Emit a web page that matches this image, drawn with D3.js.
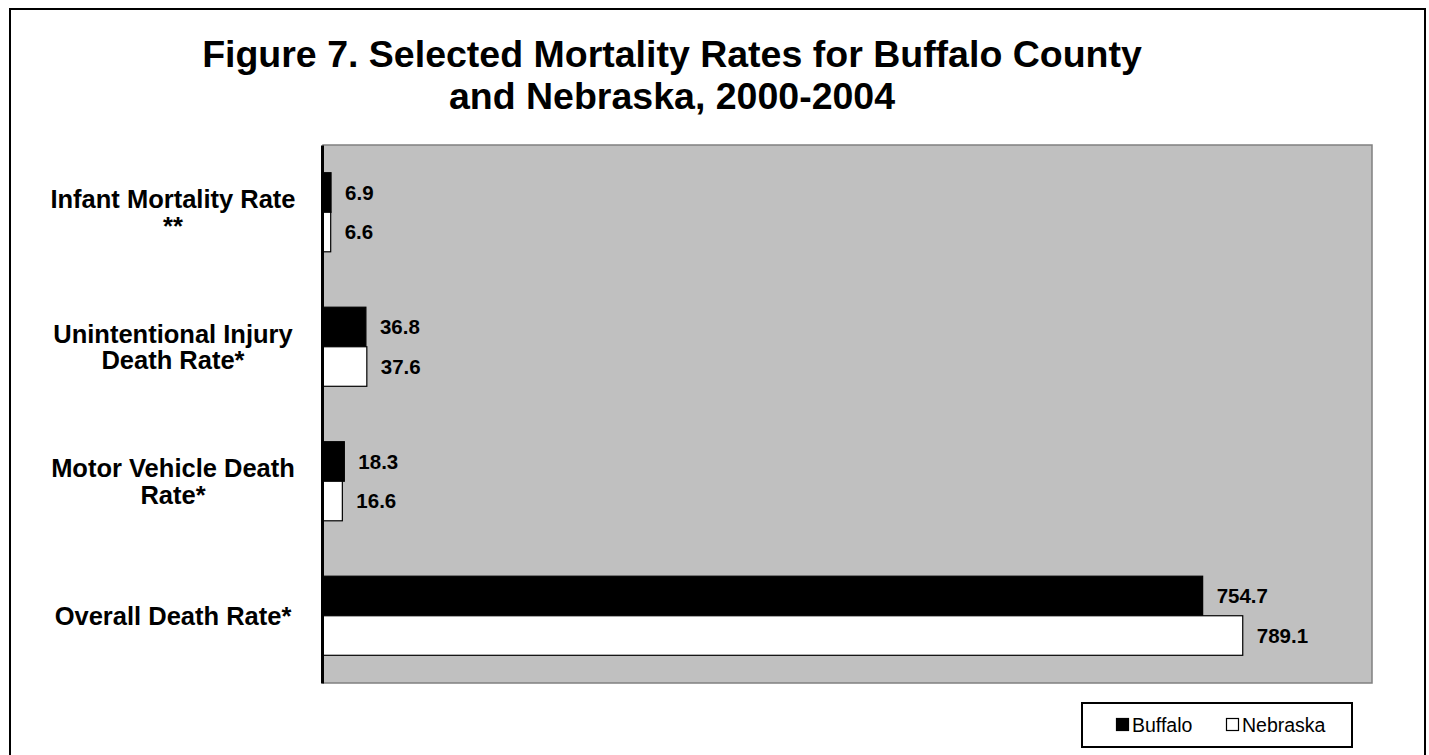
<!DOCTYPE html>
<html>
<head>
<meta charset="utf-8">
<script src="https://cdn.jsdelivr.net/npm/d3@7"></script>
<style>
  html, body { margin: 0; padding: 0; background: #fff; }
  svg { display: block; font-family: "Liberation Sans", Arial, sans-serif; }
</style>
</head>
<body>
<svg id="chart" width="1429" height="755"></svg>
<script>
// ---- data ----
const categories = [
  ["Infant Mortality Rate", "**"],
  ["Unintentional Injury", "Death Rate*"],
  ["Motor Vehicle Death", "Rate*"],
  ["Overall Death Rate*"]
];
const seriesNames = ["Buffalo", "Nebraska"];
const buffaloValues = [6.9, 36.8, 18.3, 754.7];
const nebraskaValues = [6.6, 37.6, 16.6, 789.1];
const titleLines = ["Figure 7. Selected Mortality Rates for Buffalo County", "and Nebraska, 2000-2004"];
const xDomain = [0, 900];

// ---- layout ----
const svg = d3.select("#chart");
const plot = { left: 323, right: 1372, top: 145, bottom: 683 };
const seriesFill = { Buffalo: "#000000", Nebraska: "#ffffff" };

// outer border
svg.append("rect")
  .attr("x", 10).attr("y", 9).attr("width", 1415).attr("height", 760)
  .attr("fill", "#fff").attr("stroke", "#000").attr("stroke-width", 2);

// title
svg.append("text")
  .attr("text-anchor", "middle")
  .attr("font-size", 37.5).attr("font-weight", "bold")
  .selectAll("tspan").data(titleLines).join("tspan")
  .attr("x", 672).attr("y", (d, i) => 67 + i * 42)
  .text(d => d);

// scales
const catKeys = categories.map(c => c.join(" "));
const y = d3.scaleBand().domain(catKeys).range([plot.top, plot.bottom])
  .paddingInner(0.412).paddingOuter(0.206);
const ySub = d3.scaleBand().domain(seriesNames).range([0, y.bandwidth()]);
const x = d3.scaleLinear().domain(xDomain).range([plot.left, plot.right]);

// plot area
svg.append("rect")
  .attr("x", plot.left).attr("y", plot.top)
  .attr("width", plot.right - plot.left).attr("height", plot.bottom - plot.top)
  .attr("fill", "#c0c0c0").attr("stroke", "#808080").attr("stroke-width", 1.5);

const rows = catKeys.map((k, i) => ({
  key: k, lines: categories[i],
  vals: [{ s: "Buffalo", v: buffaloValues[i] }, { s: "Nebraska", v: nebraskaValues[i] }]
}));

const groups = svg.append("g").selectAll("g").data(rows).join("g")
  .attr("transform", d => `translate(0,${y(d.key)})`);

groups.selectAll("rect").data(d => d.vals).join("rect")
  .attr("x", x(0))
  .attr("y", d => ySub(d.s))
  .attr("width", d => x(d.v) - x(0))
  .attr("height", ySub.bandwidth())
  .attr("fill", d => seriesFill[d.s])
  .attr("stroke", "#000").attr("stroke-width", 1.2);

groups.selectAll("text.val").data(d => d.vals).join("text")
  .attr("class", "val")
  .attr("x", d => x(d.v) + 14)
  .attr("y", d => ySub(d.s) + ySub.bandwidth() / 2)
  .attr("dy", "0.36em")
  .attr("font-size", 20.5).attr("font-weight", "bold")
  .text(d => d3.format(".1f")(d.v));

// category axis (left)
const yAxis = d3.axisLeft(y).tickSize(0).tickFormat("");
const axG = svg.append("g").attr("transform", `translate(${plot.left - 1},0)`).call(yAxis);
axG.select(".domain").attr("stroke", "#000").attr("stroke-width", 3);

const labelX = 173;
const lineStep = 26.5;
const labels = svg.append("g").selectAll("text").data(rows).join("text")
  .attr("text-anchor", "middle")
  .attr("font-size", 25.5).attr("font-weight", "bold");
labels.selectAll("tspan").data(d => d.lines.map((t, i) => ({
    t, yy: y(d.key) + y.bandwidth() / 2 - (d.lines.length - 1) * lineStep / 2 + i * lineStep + 9
  }))).join("tspan")
  .attr("x", labelX)
  .attr("y", d => d.yy)
  .text(d => d.t);

// legend
const leg = svg.append("g");
leg.append("rect").attr("x", 1082).attr("y", 703).attr("width", 270).attr("height", 44)
  .attr("fill", "#fff").attr("stroke", "#000").attr("stroke-width", 2);
const legX = [1116, 1226];
const legItems = leg.selectAll("g").data(seriesNames).join("g")
  .attr("transform", (d, i) => `translate(${legX[i]},725)`);
legItems.append("rect").attr("x", 0.5).attr("y", -6.5).attr("width", 12).attr("height", 12)
  .attr("fill", d => seriesFill[d]).attr("stroke", "#000").attr("stroke-width", 1.2);
legItems.append("text").attr("x", 16).attr("dy", "0.35em")
  .attr("font-size", 19.5).text(d => d);
</script>
</body>
</html>
